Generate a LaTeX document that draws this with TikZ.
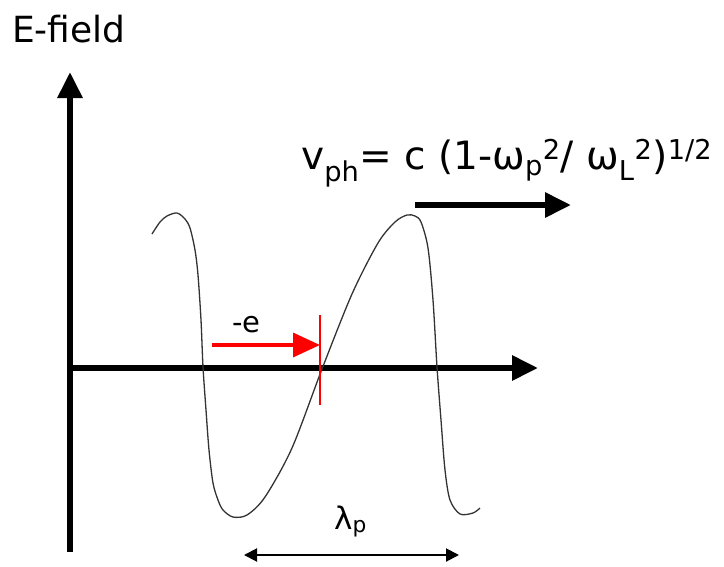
\documentclass[tikz,border=0pt]{standalone}
\usepackage{fontspec}
\setmainfont{DejaVu Sans}
\usetikzlibrary{arrows.meta,positioning}

\begin{document}
\begin{tikzpicture}[
  x=1pt,y=-1pt,
  axis/.style={line width=6pt,-{Triangle[length=26pt,width=24pt]}},
  wave/.style={line width=1.3pt,black!80,line join=round},
  lbl/.style={inner sep=0pt,anchor=base west}
]
  \useasboundingbox (0,0) rectangle (724,566);

  % axes
  \coordinate (O) at (70,368);
  \coordinate (Ybot) at (70,552);
  \coordinate (Ytip) at (70,72);
  \coordinate (Xtip) at (538,368);
  \draw[axis] (Ybot) -- (Ytip);
  \draw[axis] (O) -- (Xtip);
  \node[lbl,font=\fontsize{36}{40}\selectfont] (Elabel) at (12,42) {E-field};

  % plasma wave
  \draw[wave] plot[smooth,tension=0.5] coordinates {
    (152,234) (160,222) (167,216) (177,213) (185,219) (190,228)
    (195,250) (198,275) (201,320) (203,367) (206,410) (209,450)
    (213,483) (218,500) (223,510) (233,517) (247,515) (265,497)
    (292,448) (322,369) (352,294) (378,243) (395,222) (407,215)
    (415,216) (421,222) (428,248) (433,300) (437,367) (441,420)
    (445,470) (450,500) (460,514) (473,513) (480,508)};

  % phase velocity
  \node[lbl,font=\fontsize{39}{42}\selectfont] (vph) at (301,169)
    {v\textsubscript{ph}= c (1-ω\textsubscript{p}\textsuperscript{2}/ ω\textsubscript{L}\textsuperscript{2})\textsuperscript{1/2}};
  \coordinate (Vstart) at (415,205);
  \coordinate (Vtip) at (571,205);
  \draw[axis] (Vstart) -- (Vtip);

  % electron
  \coordinate (Estart) at (212,345);
  \coordinate (Eend) at (320,345);
  \draw[red,line width=3.5pt,-{Triangle[length=27pt,width=24pt]}] (Estart) -- (Eend);
  \draw[red,line width=1.6pt] (320,315) -- (320,405);
  \node[lbl,font=\fontsize{29}{32}\selectfont] (elec) at (232,332) {-e};

  % wavelength
  \coordinate (Lleft) at (244,555);
  \coordinate (Lright) at (459,555);
  \draw[line width=2pt,{Triangle[length=13pt,width=13pt]}-{Triangle[length=13pt,width=13pt]}] (Lleft) -- (Lright);
  \node[lbl,font=\fontsize{31}{34}\selectfont] (lam) at (334,529) {λ\textsubscript{p}};
\end{tikzpicture}
\end{document}
